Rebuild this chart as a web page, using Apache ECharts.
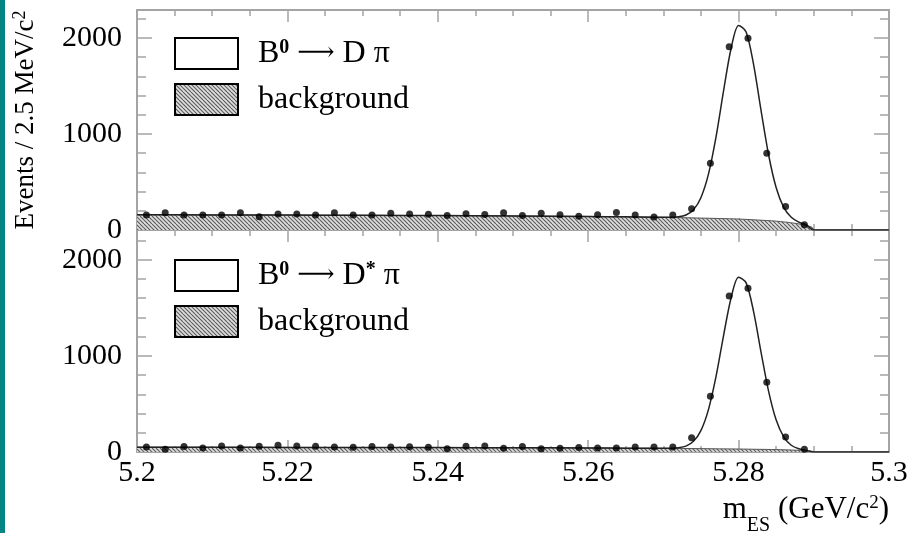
<!DOCTYPE html>
<html><head><meta charset="utf-8">
<script src="https://cdn.jsdelivr.net/npm/echarts@6/dist/echarts.min.js"></script>
<style>html,body{margin:0;padding:0;background:#fff}#c{width:911px;height:533px}</style>
</head><body><div id="c"></div>
<script>
// ---- data ----
const binCenters = [5.20125,5.20375,5.20625,5.20875,5.21125,5.21375,5.21625,5.21875,5.22125,5.22375,5.22625,5.22875,
  5.23125,5.23375,5.23625,5.23875,5.24125,5.24375,5.24625,5.24875,5.25125,5.25375,5.25625,5.25875,
  5.26125,5.26375,5.26625,5.26875,5.27125,5.27375,5.27625,5.27875,5.28125,5.28375,5.28625,5.28875];
const topPoints = [157,180,157,157,155,180,139,167,166,157,180,157,157,175,166,165,151,169,162,180,151,175,159,144,
  159,183,157,136,157,221,695,1907,1997,798,245,54];
const bottomPoints = [52,28,56,42,63,42,59,70,63,59,52,49,56,52,54,49,35,59,63,38,56,35,38,46,
  42,42,52,52,52,148,581,1624,1704,727,156,28];
const curveX = [5.2,5.21,5.22,5.23,5.24,5.25,5.26,5.265,5.27,5.271,5.272,5.273,5.274,5.275,5.276,5.277,5.278,5.279,
  5.28,5.281,5.282,5.283,5.284,5.285,5.286,5.287,5.288,5.289,5.29,5.3];
const topCurve = [158,157,155,153,150,146,141,137,132,133,137,156,211,339,584,970,1448,1889,2129,2062,1719,1237,778,439,235,132,82,53,0,0];
const bottomCurve = [50,49,48,47,46,44,42,40,38,39,44,61,111,225,444,786,1212,1603,1818,1760,1458,1032,629,332,157,70,33,17,0,0];
const bkgX = [5.2,5.21,5.22,5.23,5.24,5.25,5.26,5.265,5.27,5.275,5.28,5.2825,5.285,5.2875,5.289,5.2895,5.2898,5.29];
const topBkg = [158,157,155,153,150,146,141,137,132,124,114,104,92,70,48,36,25,0];
const bottomBkg = [50,49,48,47,46,44,42,40,38,35,31,28,25,19,13,10,7,0];
const topSignalName = 'B0 → D π';
const bottomSignalName = 'B0 → D* π';
const bkgName = 'background';
const yTitle = 'Events / 2.5 MeV/c';
const xTitle = 'm';
const xTitleSub = 'ES';
const xTitleUnit = ' (GeV/c';

// ---- rendering ----
const FONT = "'Liberation Serif', 'DejaVu Serif', serif";
const GRAY = '#a4a4a4';
function pairs(xs, ys) { return xs.map((x, i) => [x, ys[i]]); }

const hatch = document.createElement('canvas');
hatch.width = 8; hatch.height = 8;
const g = hatch.getContext('2d');
g.fillStyle = '#dedede'; g.fillRect(0, 0, 8, 8);
g.strokeStyle = '#5a5a5a'; g.lineWidth = 1.1;
for (let o = -8; o <= 8; o += 4) { g.beginPath(); g.moveTo(o, 0); g.lineTo(o + 8, 8); g.stroke(); }
const hatchFill = { image: hatch, repeat: 'repeat' };

const legendRich = {
  n: { fontFamily: FONT, fontSize: 32, lineHeight: 31, color: '#000' },
  a: { fontFamily: FONT, fontSize: 26, lineHeight: 31, color: '#000' },
  s: { fontFamily: FONT, fontSize: 20, fontWeight: 'bold', verticalAlign: 'top', lineHeight: 20, color: '#000' }
};
function legendFmt(name) {
  if (name === topSignalName) return '{n|B}{s|0}{n| }{a|⟶}{n| D π}';
  if (name === bottomSignalName) return '{n|B}{s|0}{n| }{a|⟶}{n| D}{s|*}{n| π}';
  return '{n|' + name + '}';
}
function makeLegend(top, sigName) {
  return {
    left: 174, top: top, orient: 'vertical', icon: 'rect', itemWidth: 63, itemHeight: 31, itemGap: 13,
    selectedMode: false, padding: 0,
    data: [
      { name: sigName, itemStyle: { color: '#fff', borderColor: '#000', borderWidth: 2 } },
      { name: bkgName, itemStyle: { color: hatchFill, borderColor: '#000', borderWidth: 2 } }
    ],
    formatter: legendFmt,
    textStyle: { fontFamily: FONT, fontSize: 32, color: '#000', padding: [0, 0, 0, 15], rich: legendRich }
  };
}

function xAxisDef(gridIndex, position, showLabel, extra) {
  return Object.assign({
    type: 'value', gridIndex, position, min: 5.2, max: 5.3, interval: 0.02,
    axisLine: { onZero: false, lineStyle: { color: GRAY, width: 2 } },
    axisTick: { inside: true, length: 12, lineStyle: { color: GRAY, width: 1.5 } },
    minorTick: { show: true, splitNumber: 4, length: 6, lineStyle: { color: GRAY, width: 1.5 } },
    splitLine: { show: false }, minorSplitLine: { show: false },
    axisLabel: { show: showLabel, fontFamily: FONT, fontSize: 30, color: '#000', margin: 6,
      formatter: v => String(+v.toFixed(3)) }
  }, extra || {});
}
function yAxisDef(gridIndex, position, max, showLabel, extra) {
  return Object.assign({
    type: 'value', gridIndex, position, min: 0, max: max, interval: 1000,
    axisLine: { show: true, onZero: false, lineStyle: { color: GRAY, width: 2 } },
    axisTick: { show: true, inside: true, length: 15, lineStyle: { color: GRAY, width: 1.5 } },
    minorTick: { show: true, splitNumber: 5, length: 9, lineStyle: { color: GRAY, width: 1.5 } },
    splitLine: { show: false }, minorSplitLine: { show: false },
    axisLabel: { show: showLabel, fontFamily: FONT, fontSize: 30, color: '#000', margin: 15,
      formatter: v => (v % 1000 === 0 ? String(v) : '') }
  }, extra || {});
}

const chart = echarts.init(document.getElementById('c'), null, { renderer: 'canvas' });
chart.setOption({
  backgroundColor: '#fff',
  animation: false,
  graphic: [{ type: 'rect', left: 0, top: 0, shape: { width: 5, height: 533 }, style: { fill: '#058484' }, silent: true }],
  grid: [
    { left: 137, top: 10, width: 752, height: 220, containLabel: false, outerBoundsMode: 'none' },
    { left: 137, top: 230, width: 752, height: 222, containLabel: false, outerBoundsMode: 'none' }
  ],
  legend: [makeLegend(37, topSignalName), makeLegend(259, bottomSignalName)],
  xAxis: [
    xAxisDef(0, 'bottom', false),
    xAxisDef(0, 'top', false),
    xAxisDef(1, 'bottom', true, {
      name: '{n|' + xTitle + '}{b|' + xTitleSub + '}{n|' + xTitleUnit + '}{s|2}{n|)}',
      nameLocation: 'end', nameGap: 0, nameMoveOverlap: false,
      nameTextStyle: { align: 'right', verticalAlign: 'top', padding: [42, 0, 0, 0],
        fontFamily: FONT, fontSize: 31, color: '#000',
        rich: {
          n: { fontFamily: FONT, fontSize: 31, lineHeight: 34, verticalAlign: 'top', color: '#000' },
          b: { fontFamily: FONT, fontSize: 20, lineHeight: 42, verticalAlign: 'bottom', color: '#000' },
          s: { fontFamily: FONT, fontSize: 19, lineHeight: 10, verticalAlign: 'top', color: '#000' }
        } }
    }),
    xAxisDef(1, 'top', false)
  ],
  yAxis: [
    yAxisDef(0, 'left', 2290, true, {
      name: '{n|' + yTitle + '}{s|2}', nameLocation: 'middle', nameRotate: 90, nameGap: 96, nameMoveOverlap: false,
      nameTextStyle: { fontFamily: FONT, fontSize: 27, color: '#000',
        rich: {
          n: { fontFamily: FONT, fontSize: 27, lineHeight: 30, color: '#000' },
          s: { fontFamily: FONT, fontSize: 18, lineHeight: 14, verticalAlign: 'top', color: '#000' }
        } }
    }),
    yAxisDef(0, 'right', 2290, false),
    yAxisDef(1, 'left', 2310, true),
    yAxisDef(1, 'right', 2310, false)
  ],
  series: [
    { type: 'line', name: bkgName, xAxisIndex: 0, yAxisIndex: 0, data: pairs(bkgX, topBkg), symbol: 'none', smooth: 0.3,
      lineStyle: { color: '#555', width: 1 }, itemStyle: { color: '#888' }, areaStyle: { color: hatchFill, opacity: 1 }, z: 2 },
    { type: 'line', name: topSignalName, xAxisIndex: 0, yAxisIndex: 0, data: pairs(curveX, topCurve), symbol: 'none', smooth: 0.3,
      lineStyle: { color: '#222', width: 1.5 }, itemStyle: { color: '#222' }, z: 3 },
    { type: 'scatter', name: 'data1', xAxisIndex: 0, yAxisIndex: 0, data: pairs(binCenters, topPoints), symbolSize: 7,
      itemStyle: { color: '#000' }, z: 4 },
    { type: 'line', name: bkgName, xAxisIndex: 2, yAxisIndex: 2, data: pairs(bkgX, bottomBkg), symbol: 'none', smooth: 0.3,
      lineStyle: { color: '#555', width: 1 }, itemStyle: { color: '#888' }, areaStyle: { color: hatchFill, opacity: 1 }, z: 2 },
    { type: 'line', name: bottomSignalName, xAxisIndex: 2, yAxisIndex: 2, data: pairs(curveX, bottomCurve), symbol: 'none', smooth: 0.3,
      lineStyle: { color: '#222', width: 1.5 }, itemStyle: { color: '#222' }, z: 3 },
    { type: 'scatter', name: 'data2', xAxisIndex: 2, yAxisIndex: 2, data: pairs(binCenters, bottomPoints), symbolSize: 7,
      itemStyle: { color: '#000' }, z: 4 }
  ]
});
</script></body></html>
